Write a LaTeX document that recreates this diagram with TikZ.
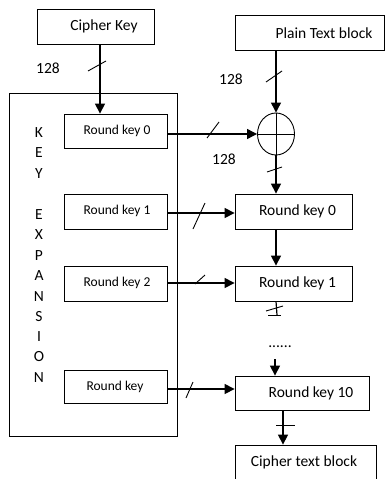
\documentclass[tikz,border=0pt]{standalone}
\usepackage{fontspec}
\setmainfont{Carlito}
\usetikzlibrary{arrows.meta,shapes.geometric}
\begin{document}
\begin{tikzpicture}[x=1pt,y=-1pt,
  box/.style={draw,line width=0.8pt,rectangle,inner sep=0pt},
  big/.style={font=\fontsize{15.5}{18}\selectfont},
  small/.style={font=\fontsize{13.5}{16}\selectfont},
  arr/.style={line width=1.2pt,-{Triangle[length=10pt,width=10pt]}},
  ln/.style={line width=1.2pt},
  sl/.style={line width=0.9pt}]
\useasboundingbox (0,0) rectangle (385,479);
\clip (0,0) rectangle (385,479);
% boxes
\node[box,minimum width=117pt,minimum height=35pt] (ck) at (95.5,26.5) {};
\node[big] (ckt) at (104,26) {Cipher Key};
\node[box,minimum width=149.5pt,minimum height=35pt] (pt) at (309.75,32.5) {};
\node[big] (ptt) at (324,33) {Plain Text block};
\node[box,line width=0.9pt,minimum width=168pt,minimum height=343pt] (ke) at (93,264.5) {};
\node[box,minimum width=103pt,minimum height=34pt] (lk0) at (115.5,131) {};
\node[small] (lk0t) at (117,131) {Round key 0};
\node[box,minimum width=103pt,minimum height=35pt] (lk1) at (115.5,211.5) {};
\node[small] (lk1t) at (117,211) {Round key 1};
\node[box,minimum width=103pt,minimum height=35pt] (lk2) at (115.5,283.5) {};
\node[small] (lk2t) at (117,283) {Round key 2};
\node[box,minimum width=103pt,minimum height=33pt] (lk) at (115.5,386.5) {};
\node[small] (lkt) at (115,387) {Round key};
\node[box,minimum width=117pt,minimum height=35pt] (rk0) at (293.5,211.5) {};
\node[big] (rk0t) at (297.5,211) {Round key 0};
\node[box,minimum width=117pt,minimum height=35pt] (rk1) at (293.5,283.5) {};
\node[big] (rk1t) at (297.5,283) {Round key 1};
\node[box,minimum width=134pt,minimum height=34pt] (rk10) at (302,393) {};
\node[big] (rk10t) at (311,393) {Round key 10};
\node[box,minimum width=141pt,minimum height=45pt] (ctb) at (305.5,467.5) {};
\node[big] (ctbt) at (304,462) {Cipher text block};
% xor
\node[draw,ellipse,line width=0.9pt,minimum width=37pt,minimum height=42pt,inner sep=0pt] (xor) at (276,134) {};
\draw[line width=0.9pt] (xor.north) -- (xor.south) (xor.west) -- (xor.east);
% KEY EXPANSION letters
\foreach \l/\yy [count=\i] in {K/133,E/153,Y/174,E/215,X/235,P/256,A/276,N/297,S/317,I/337,O/357,N/378}
  \node[big] (kel\i) at (39,\yy) {\l};
% labels
\node[big] (n1) at (48,68) {128};
\node[big] (n2) at (231,79) {128};
\node[big] (n3) at (224,159) {128};
\node[big] (dots) at (280,347) {......};
% connectors
\coordinate (ckout) at ([xshift=4.5pt]ck.south);
\draw[arr] (ckout) -- (ckout |- lk0.north);
\draw[arr] (pt.south -| xor) -- (xor.north);
\draw[arr] (lk0.east |- xor.west) -- (xor.west);
\draw[arr] (xor.south) -- (xor.south |- rk0.north);
\draw[arr] (lk1.east |- 0,213) -- (rk0.west |- 0,213);
\draw[arr] (lk2.east |- 0,283) -- (rk1.west |- 0,283);
\draw[arr] (lk.east |- 0,389) -- (rk10.west |- 0,389);
\draw[arr] (xor |- rk0.south) -- (xor |- rk1.north);
\draw[ln] (xor |- rk1.south) -- (277,315);
\coordinate (dd) at (275,359);
\draw[arr] (dd) -- (dd |- rk10.north);
\coordinate (c10) at (283,410);
\draw[arr] (c10 |- rk10.south) -- (c10 |- ctb.north);
% slashes / ticks
\draw[sl] (88,71) -- (106,61);
\draw[sl] (266,82) -- (282,71);
\draw[sl] (207,138) -- (219,122);
\draw[sl] (267,172) -- (282,167);
\draw[sl] (193,229) -- (205,203);
\draw[sl] (195,284) -- (205,275);
\draw[sl] (186,398) -- (193,382);
\draw[sl] (266,311) -- (283,306);
\draw[sl] (268,315) -- (281,315);
\draw[sl] (276,425) -- (295,425);
\end{tikzpicture}
\end{document}
